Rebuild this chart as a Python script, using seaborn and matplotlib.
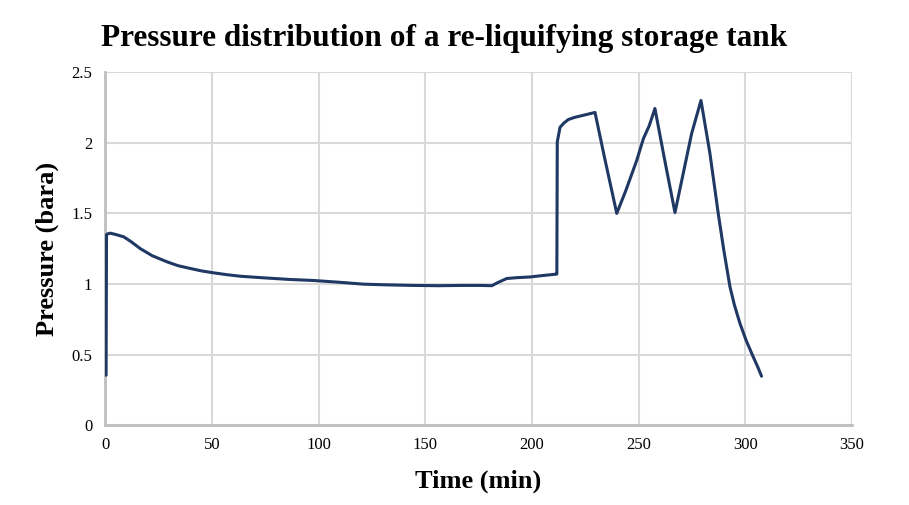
import matplotlib
matplotlib.use("Agg")
import matplotlib.pyplot as plt
import seaborn as sns
import pandas as pd

time_min = [0.3, 0.5, 1, 2.3, 5, 8.6, 12, 16.4, 22, 28.9, 34, 39.8, 45, 50.8, 57,
            63.3, 75, 86.7, 97.6, 110, 121, 132, 144.5, 156, 167.9, 176, 181.2, 184,
            188.2, 193, 199.2, 205, 210.9, 211.7, 211.9, 213.2, 215, 217.1, 220, 224.1,
            229.6, 234, 239.8, 244, 249.2, 252.3, 255, 257.7, 262, 267.1, 271, 274.9,
            279.3, 283.5, 287.4, 290, 292.9, 295, 297.6, 300.5, 303.8, 306, 307.7]
pressure_bara = [0.354, 1.35, 1.355, 1.36, 1.35, 1.334, 1.30, 1.25, 1.20, 1.157, 1.13,
                 1.11, 1.093, 1.079, 1.066, 1.055, 1.043, 1.032, 1.025, 1.012, 0.999,
                 0.994, 0.99, 0.988, 0.99, 0.99, 0.988, 1.01, 1.039, 1.045, 1.05, 1.06,
                 1.069, 1.07, 2.006, 2.11, 2.14, 2.165, 2.18, 2.195, 2.215, 1.90, 1.50,
                 1.66, 1.877, 2.03, 2.12, 2.243, 1.90, 1.506, 1.785, 2.065, 2.30, 1.924,
                 1.499, 1.24, 0.98, 0.85, 0.72, 0.60, 0.484, 0.41, 0.347]
x_ticks = [0, 50, 100, 150, 200, 250, 300, 350]
y_ticks = [0, 0.5, 1, 1.5, 2, 2.5]
y_tick_labels = ["0", "0.5", "1", "1.5", "2", "2.5"]

df = pd.DataFrame({"Time (min)": time_min, "Pressure (bara)": pressure_bara})

sns.set_style("white")
plt.rcParams["font.family"] = ["Liberation Serif", "DejaVu Serif"]
plt.rcParams["text.color"] = "black"
plt.rcParams["axes.labelcolor"] = "black"

fig = plt.figure(figsize=(9.09, 5.05), dpi=100)
ax = fig.add_axes([0.116, 0.158, 0.821, 0.699])

sns.lineplot(data=df, x="Time (min)", y="Pressure (bara)", sort=False,
             color="#1F3864", linewidth=2.2, ax=ax, zorder=3)

ax.set_xlim(0, 350)
ax.set_ylim(0, 2.5)
ax.set_xticks(x_ticks)
ax.set_xticklabels([str(v) for v in x_ticks])
ax.set_yticks(y_ticks)
ax.set_yticklabels(y_tick_labels)
ax.grid(True, color="#d9d9d9", linewidth=1.5, zorder=0)
ax.set_axisbelow(True)
for s in ["top", "right"]:
    ax.spines[s].set_visible(False)
for s in ["left", "bottom"]:
    ax.spines[s].set_color("#bfbfbf")
    ax.spines[s].set_linewidth(2.0)
ax.tick_params(axis="both", direction="inout", length=7, width=1.5, color="#bfbfbf",
               labelsize=12, labelcolor="black")
ax.tick_params(axis="x", pad=5)
ax.tick_params(axis="y", pad=6)

ax.set_xlabel("Time (min)", fontsize=19, fontweight="bold", labelpad=12, color="black")
ax.set_ylabel("Pressure (bara)", fontsize=19, fontweight="bold", labelpad=9, color="black")

fig.text(0.489, 0.923, "Pressure distribution of a re-liquifying storage tank",
         ha="center", va="center", fontsize=22.5, fontweight="bold", color="black")

fig.savefig("out.png", dpi=100)
